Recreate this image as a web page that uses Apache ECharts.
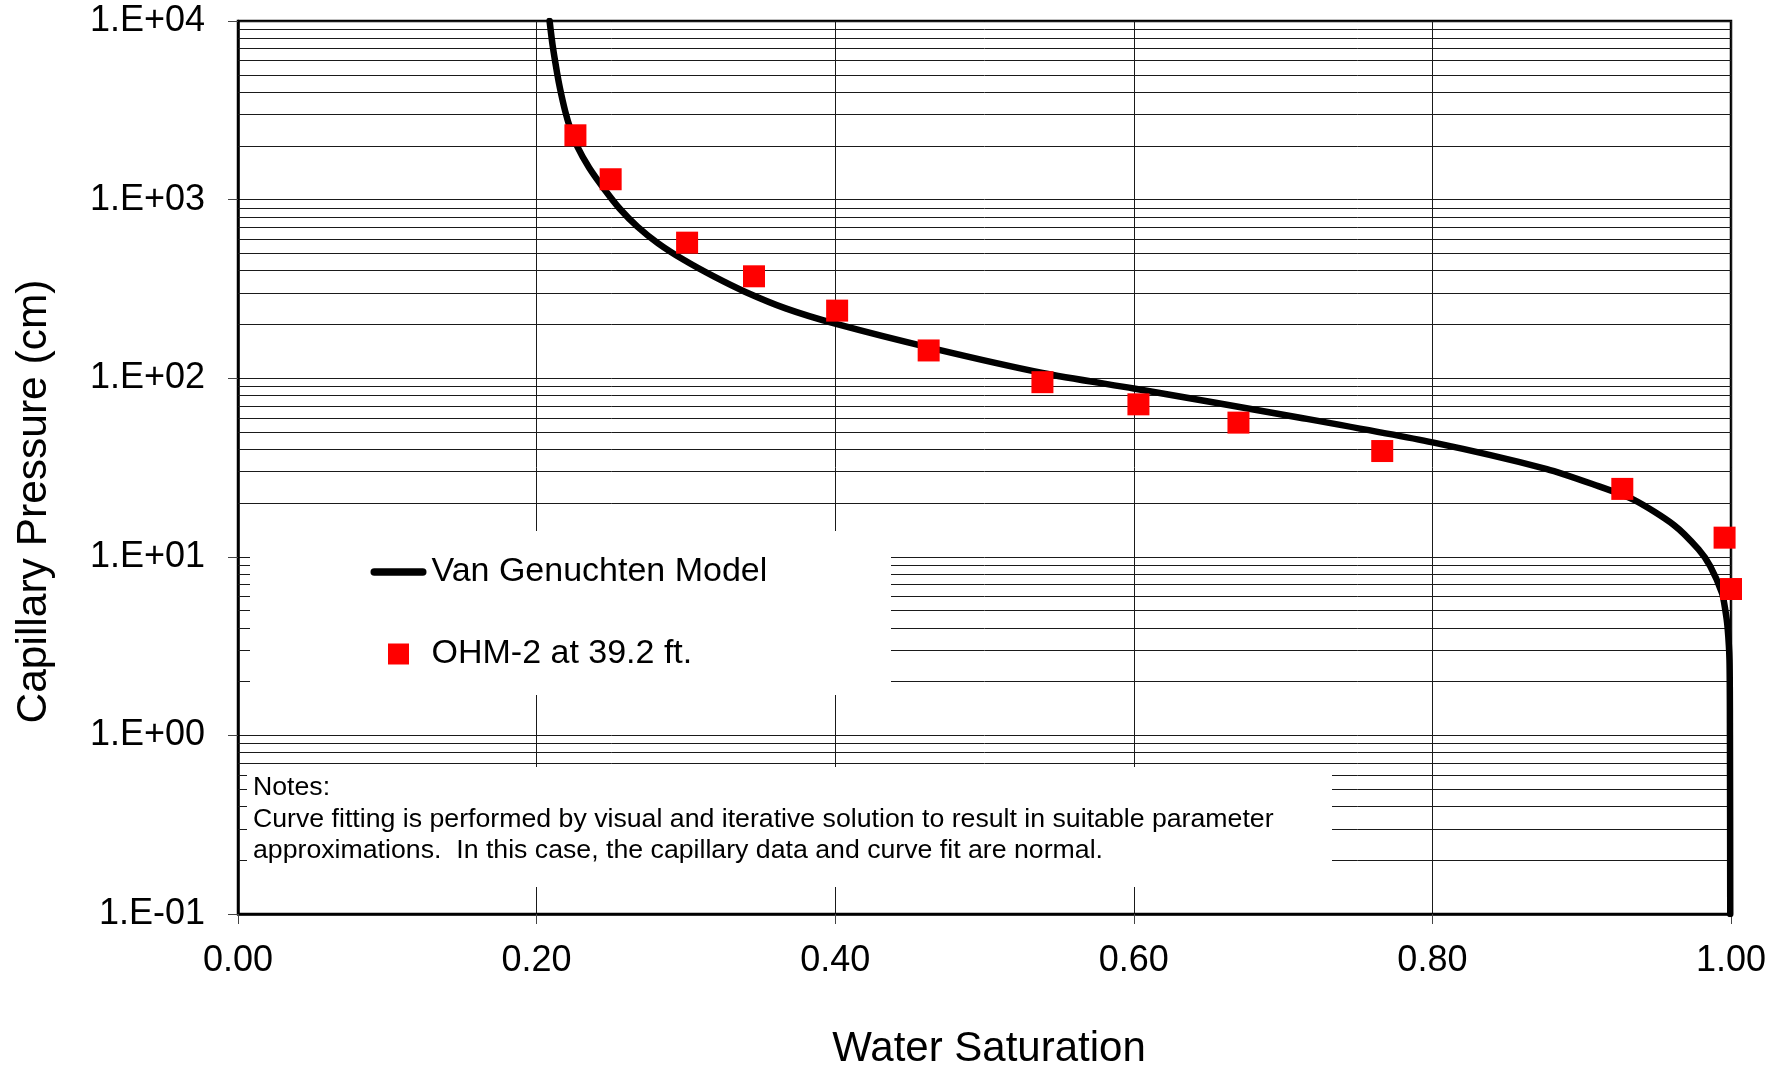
<!DOCTYPE html>
<html>
<head>
<meta charset="utf-8">
<title>Capillary Pressure vs Water Saturation</title>
<script src="https://cdn.jsdelivr.net/npm/echarts@6/dist/echarts.min.js"></script>
<style>
  html, body { margin: 0; padding: 0; background: #fff; }
  #chart { width: 1788px; height: 1068px; }
</style>
</head>
<body>
<div id="chart"></div>
<script>
// Van Genuchten model curve: [water saturation, capillary pressure (cm)]
const modelCurve = [
  [0.2087, 10000], [0.2107, 7338], [0.2137, 5134], [0.2157, 4183], [0.2192, 3113],
  [0.2226, 2491], [0.2267, 2025], [0.2352, 1507], [0.2455, 1139], [0.2557, 889],
  [0.2677, 703.5], [0.2814, 569], [0.2985, 460], [0.3190, 370], [0.3395, 305],
  [0.3668, 246], [0.4000, 202], [0.4660, 146.4], [0.5388, 107], [0.6000, 87.5],
  [0.7114, 60.1], [0.8001, 43.7], [0.8767, 31.0], [0.9080, 25.4], [0.9347, 20.9],
  [0.9616, 15.1], [0.9783, 11.0], [0.9861, 8.85], [0.9940, 6.25], [0.9962, 5.02],
  [0.9977, 4.03], [0.9990, 2.63], [0.9993, 1.0], [0.9995, 0.1]
];

// Measured capillary data, OHM-2 at 39.2 ft.
const sampleSw = [0.226, 0.2496, 0.3008, 0.3456, 0.4013, 0.4626, 0.5388, 0.6031, 0.6701, 0.7664, 0.9272, 0.9957, 1.0];
const samplePc = [2291, 1300, 574, 372, 239, 143, 95, 71.4, 56.4, 39.1, 24.0, 12.8, 6.6];

// Axis ticks
const xTicks = [0, 0.2, 0.4, 0.6, 0.8, 1.0];
const xTickLabels = ['0.00', '0.20', '0.40', '0.60', '0.80', '1.00'];
const yTicks = [0.1, 1, 10, 100, 1000, 10000];
const yTickLabels = ['1.E-01', '1.E+00', '1.E+01', '1.E+02', '1.E+03', '1.E+04'];
const minorSteps = [2, 3, 4, 5, 6, 7, 8, 9];

const seriesNames = ['Van Genuchten Model', 'OHM-2 at 39.2 ft.'];
const notesText = 'Notes:\nCurve fitting is performed by visual and iterative solution to result in suitable parameter\napproximations.  In this case, the capillary data and curve fit are normal.';

const FONT = '"Liberation Sans", Arial, sans-serif';

// intermediate log gridlines (2..9 within each decade)
const minorLines = [];
yTicks.slice(0, -1).forEach(d => minorSteps.forEach(m => minorLines.push(+(d * m).toPrecision(3))));

const samplePoints = sampleSw.map((x, i) => [x, samplePc[i]]);

function labelFor(ticks, labels, v) {
  for (let i = 0; i < ticks.length; i++) {
    if (Math.abs(ticks[i] - v) < 1e-9 * Math.max(1, ticks[i])) return labels[i];
  }
  return '';
}

const gridLineStyle = { color: '#1a1a1a', width: 1, type: 'solid' };

// legend glyphs: thick rounded bar for the model, square for the samples
const barIcon = 'path://M3.75 0H52.25A3.75 3.75 0 0 1 52.25 7.5H3.75A3.75 3.75 0 0 1 3.75 0Z';
const squareIcon = 'path://M0 0H10V10H0Z';

const chart = echarts.init(document.getElementById('chart'), null, { renderer: 'canvas' });

chart.setOption({
  animation: false,
  backgroundColor: '#fff',
  grid: {
    left: 238, top: 21, right: 57, bottom: 154,
    containLabel: false, outerBoundsMode: 'none',
    show: true, borderColor: '#000', borderWidth: 2.5, backgroundColor: 'transparent'
  },
  xAxis: {
    type: 'value', min: 0, max: 1, interval: 0.2,
    name: 'Water Saturation', nameLocation: 'middle', nameGap: 114,
    nameTextStyle: { fontFamily: FONT, fontSize: 42, color: '#000', padding: [0, 0, 0, 9] },
    axisLine: { show: true, lineStyle: { color: '#000', width: 2.5 } },
    axisTick: { show: true, inside: false, length: 10, lineStyle: { color: '#444', width: 1 } },
    axisLabel: {
      margin: 29, fontFamily: FONT, fontSize: 36, color: '#000',
      formatter: v => labelFor(xTicks, xTickLabels, v)
    },
    splitLine: { show: true, lineStyle: gridLineStyle }
  },
  yAxis: {
    type: 'log', logBase: 10, min: 0.1, max: 10000,
    name: 'Capillary Pressure (cm)', nameLocation: 'middle', nameGap: 182,
    nameTextStyle: { fontFamily: FONT, fontSize: 42.5, color: '#000', padding: [0, 68, 0, 0] },
    axisLine: { show: true, lineStyle: { color: '#000', width: 2.5 } },
    axisTick: { show: true, inside: false, length: 10, lineStyle: { color: '#444', width: 1 } },
    axisLabel: {
      margin: 33, fontFamily: FONT, fontSize: 36, color: '#000',
      formatter: v => labelFor(yTicks, yTickLabels, v)
    },
    splitLine: { show: true, lineStyle: gridLineStyle },
    minorTick: { show: false },
    minorSplitLine: { show: false }
  },
  legend: {
    orient: 'vertical', left: 370.5, top: 555, padding: 0,
    itemWidth: 56, itemHeight: 21, itemGap: 48,
    symbolKeepAspect: true, z: 4,
    textStyle: { fontFamily: FONT, fontSize: 34, color: '#000', lineHeight: 34 },
    data: [
      { name: seriesNames[0], icon: barIcon, itemStyle: { color: '#000', opacity: 1 } },
      { name: seriesNames[1], icon: squareIcon, itemStyle: { color: '#ff0000', opacity: 1 } }
    ],
    selectedMode: false
  },
  graphic: [
    { type: 'rect', z: 3, silent: true, shape: { x: 250, y: 531, width: 641, height: 164 }, style: { fill: '#fff' } },
    { type: 'rect', z: 3, silent: true, shape: { x: 247, y: 767, width: 1085, height: 120 }, style: { fill: '#fff' } },
    {
      type: 'text', z: 4, silent: true, x: 253, y: 772,
      style: {
        text: notesText, fontFamily: FONT, fontSize: 26.7, lineHeight: 31.5,
        fill: '#000', align: 'left', verticalAlign: 'top'
      }
    }
  ],
  series: [
    {
      // 2..9 gridlines inside each decade
      type: 'lines', coordinateSystem: 'cartesian2d', silent: true, z: 1,
      polyline: false,
      lineStyle: { color: '#1a1a1a', width: 1, opacity: 1, curveness: 0 },
      data: minorLines.map(v => ({ coords: [[0, v], [1, v]] }))
    },
    {
      name: seriesNames[0], type: 'line', z: 2,
      data: modelCurve, symbol: 'none', showSymbol: false,
      smooth: 0.25,
      lineStyle: { color: '#000', width: 6.5, cap: 'round', join: 'round' },
      itemStyle: { color: '#000' }
    },
    {
      name: seriesNames[1], type: 'scatter', z: 2.5,
      data: samplePoints, symbol: 'rect', symbolSize: 22, clip: false,
      itemStyle: { color: '#ff0000', opacity: 1 }
    }
  ]
});
</script>
</body>
</html>
